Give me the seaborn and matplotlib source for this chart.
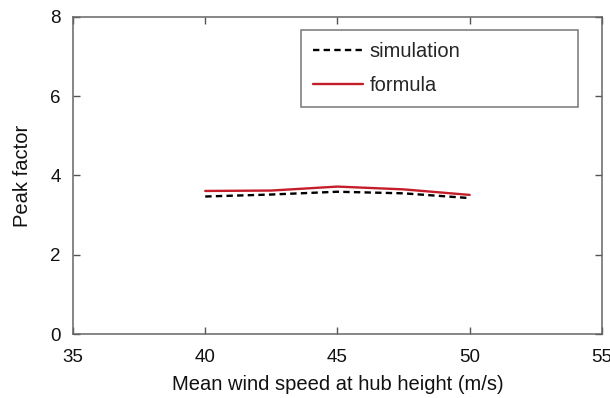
import matplotlib
matplotlib.use("Agg")
import matplotlib.pyplot as plt
import numpy as np
import pandas as pd
import seaborn as sns

wind_speed = [40, 42.5, 45, 47.5, 50]
simulation = [3.47, 3.52, 3.59, 3.55, 3.43]
formula = [3.61, 3.62, 3.72, 3.65, 3.51]

sns.set_style("ticks")
plt.rcParams["font.family"] = ["Liberation Sans", "DejaVu Sans"]

fig = plt.figure(figsize=(6.1, 3.98), dpi=100)
ax = fig.add_axes([0.1197, 0.1608, 0.867, 0.7965])

sns.lineplot(x=wind_speed, y=simulation, ax=ax, color="black", linestyle=(0, (2.7, 1.8)),
             linewidth=1.7, label="simulation")
sns.lineplot(x=wind_speed, y=formula, ax=ax, color="#c41e2a", linewidth=1.7, label="formula")

ax.set_xlim(35, 55)
ax.set_ylim(0, 8)
ax.set_xticks([35, 40, 45, 50, 55])
ax.set_yticks([0, 2, 4, 6, 8])
ax.set_xlabel("Mean wind speed at hub height (m/s)", fontsize=14.5, color="#111111", labelpad=6)
ax.set_ylabel("Peak factor", fontsize=14.5, color="#111111", labelpad=13)
ax.tick_params(direction="in", top=True, right=True, length=5, width=1, color="#555555",
               labelsize=13.5, labelcolor="#111111")
ax.tick_params(axis="x", pad=11)
ax.tick_params(axis="y", pad=9)
for s in ax.spines.values():
    s.set_color("#666666")
    s.set_linewidth(1.1)

leg = ax.legend(loc="upper left", bbox_to_anchor=(0.431, 0.716, 0.524, 0.243), mode="expand",
                fontsize=14.5, frameon=True, fancybox=False, edgecolor="#555555",
                handlelength=2.5, handletextpad=0.3, borderpad=0.6, labelspacing=0.75,
                borderaxespad=0)
leg.get_frame().set_linewidth(1.1)

fig.savefig("out.png", dpi=100)
